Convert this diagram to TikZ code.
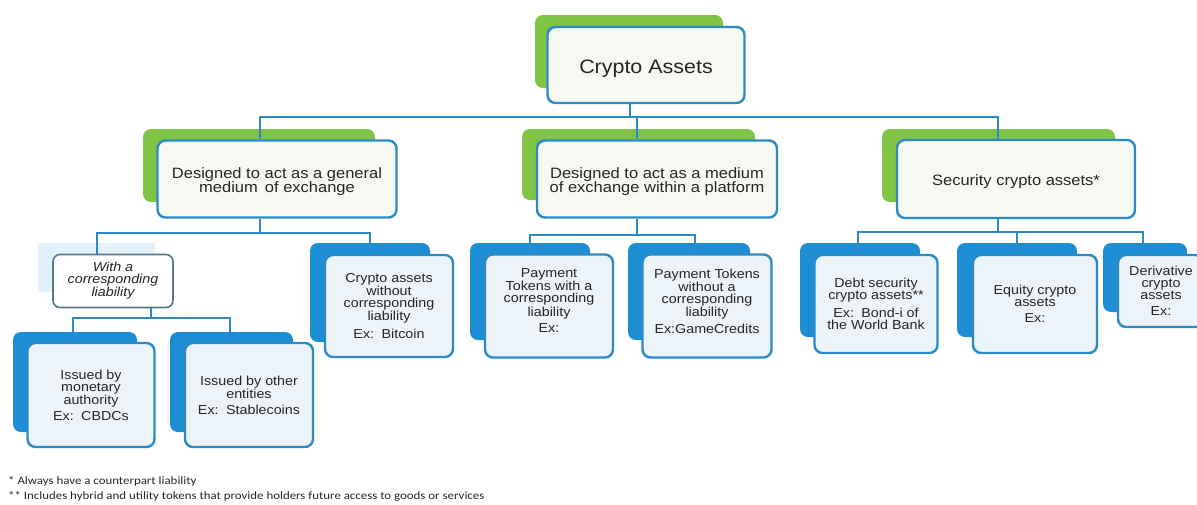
\documentclass[tikz,border=0pt]{standalone}
\usepackage{fontspec}
\setmainfont{Liberation Sans}[FakeStretch=1.1]
\newfontfamily\notefont{Carlito}[FakeStretch=1.15]
\usepackage{xcolor}
\usepackage{tikz}
\definecolor{leafgreen}{RGB}{128,196,70}
\definecolor{skyblue}{RGB}{30,142,212}
\definecolor{rimblue}{RGB}{44,138,200}
\definecolor{paleblue}{RGB}{236,244,249}
\definecolor{palegreen}{RGB}{245,249,242}
\definecolor{mistblue}{RGB}{226,242,250}
\definecolor{slateline}{RGB}{88,118,140}
\definecolor{inkgray}{RGB}{38,38,38}

\begin{document}
\begin{tikzpicture}[x=1pt, y=-1pt,
    card/.style={draw=rimblue, line width=2.4pt, rounded corners=8pt,
                 fill=#1, align=center, text=inkgray, inner sep=2pt},
    card/.default=white,
    head/.style={card=palegreen, font=\fontsize{15}{14}\selectfont},
    leaf/.style={card=paleblue, font=\fontsize{13}{12}\selectfont},
    greentab/.style={fill=leafgreen, rounded corners=8pt},
    bluetab/.style={fill=skyblue, rounded corners=8pt},
    link/.style={draw=rimblue, line width=2.6pt},
    note/.style={font=\notefont\fontsize{11.2}{12}\selectfont, text=inkgray,
                 anchor=base west, inner sep=0pt}]
  \useasboundingbox (0,0) rectangle (1197,504);

  % top of the tree
  \fill[greentab] (535,15) rectangle (723,88);
  \node[card=palegreen, font=\fontsize{19.5}{20}\selectfont,
        minimum width=197pt, minimum height=76pt] (root) at (646,65)
    {\rule{0pt}{22pt}Crypto Assets};

  % the three headings
  \fill[greentab] (143,129) rectangle (375,202);
  \node[head, minimum width=239pt, minimum height=77pt] (gen) at (277,179)
    {\rule{0pt}{17pt}Designed to act as a general\\medium\, of exchange};
  \fill[greentab] (522,129) rectangle (755,200);
  \node[head, minimum width=240pt, minimum height=77pt] (plat) at (657,179)
    {\rule{0pt}{17pt}Designed to act as a medium\\of exchange within a platform};
  \fill[greentab] (882,129) rectangle (1115,202);
  \node[head, minimum width=238pt, minimum height=78pt] (sec) at (1016,179)
    {\rule{0pt}{17pt}Security crypto assets*};

  % general medium of exchange
  \fill[fill=mistblue] (38,243) rectangle (155,292);
  \node[draw=slateline, line width=1.6pt, rounded corners=7pt, fill=white,
        align=center, text=inkgray, font=\itshape\fontsize{13}{12}\selectfont,
        minimum width=120pt, minimum height=53pt] (witha) at (113,281)
    {With a\\corresponding\\liability};
  \fill[bluetab] (310,243) rectangle (430,342);
  \node[leaf, minimum width=128pt, minimum height=102pt] (noliab) at (389,306)
    {Crypto assets\\without\\corresponding\\liability\\[5pt]Ex:\, Bitcoin};
  \fill[bluetab] (13,332) rectangle (137,432);
  \node[leaf, minimum width=127pt, minimum height=104pt] (monet) at (91,395)
    {Issued by\\monetary\\authority\\[4pt]Ex:\, CBDCs};
  \fill[bluetab] (170,332) rectangle (293,432);
  \node[leaf, minimum width=128pt, minimum height=104pt] (other) at (249,395)
    {Issued by other\\entities\\[4pt]Ex:\, Stablecoins};

  % medium within a platform
  \fill[bluetab] (470,243) rectangle (590,340);
  \node[leaf, minimum width=128pt, minimum height=103pt] (paywith) at (549,306)
    {Payment\\Tokens with a\\corresponding\\liability\\[4pt]Ex:\rule[-11pt]{0pt}{11pt}};
  \fill[bluetab] (628,243) rectangle (750,340);
  \node[leaf, minimum width=129pt, minimum height=103pt] (paywo) at (707,306)
    {Payment Tokens\\without a\\corresponding\\liability\\[4pt]Ex:GameCredits\rule[-10pt]{0pt}{10pt}};

  % security crypto assets
  \fill[bluetab] (800,243) rectangle (920,337);
  \node[leaf, minimum width=123pt, minimum height=98pt] (debt) at (876,304)
    {Debt security\\crypto assets**\\[5pt]Ex:\, Bond-i of\\the World Bank};
  \fill[bluetab] (957,243) rectangle (1077,337);
  \node[leaf, minimum width=124pt, minimum height=98pt] (equity) at (1035,304)
    {Equity crypto\\assets\\[4pt]Ex:};
  \fill[bluetab] (1103,243) rectangle (1187,312);
  \node[leaf, minimum width=86pt, minimum height=72pt] (deriv) at (1161,291)
    {Derivative\\crypto\\assets\\[4pt]Ex:};

  % connectors
  \coordinate (rootbus) at (630,117);
  \draw[link] (root.south -| rootbus) -- (rootbus);
  \draw[link] (rootbus) -| (gen.north -| 260,0);
  \draw[link] (rootbus) -| (plat.north -| 637,0);
  \draw[link] (rootbus) -| (sec.north -| 998,0);

  \coordinate (genbus) at (260,233);
  \draw[link] (gen.south -| genbus) -- (genbus);
  \draw[link] (genbus) -| (witha.north -| 97,0);
  \draw[link] (genbus) -| (noliab.north -| 370,0);

  \coordinate (withbus) at (151,318);
  \draw[link] (witha.south -| withbus) -- (withbus);
  \draw[link] (withbus) -| (monet.north -| 73,0);
  \draw[link] (withbus) -| (other.north -| 230,0);

  \coordinate (platbus) at (637,235);
  \draw[link] (plat.south -| platbus) -- (platbus);
  \draw[link] (platbus) -| (paywith.north -| 530,0);
  \draw[link] (platbus) -| (paywo.north -| 695,0);

  \coordinate (secbus) at (998,232);
  \draw[link] (sec.south -| secbus) -- (secbus);
  \draw[link] (secbus) -| (debt.north -| 858,0);
  \draw[link] (secbus) -| (equity.north -| 1017,0);
  \draw[link] (secbus) -| (deriv.north -| 1143,0);

  % footnotes
  \node[note] (fn1) at (8,484) {* Always have a counterpart liability};
  \node[note] (fn2) at (8,499)
    {** Includes hybrid and utility tokens that provide holders future access to goods or services};
\end{tikzpicture}
\end{document}
